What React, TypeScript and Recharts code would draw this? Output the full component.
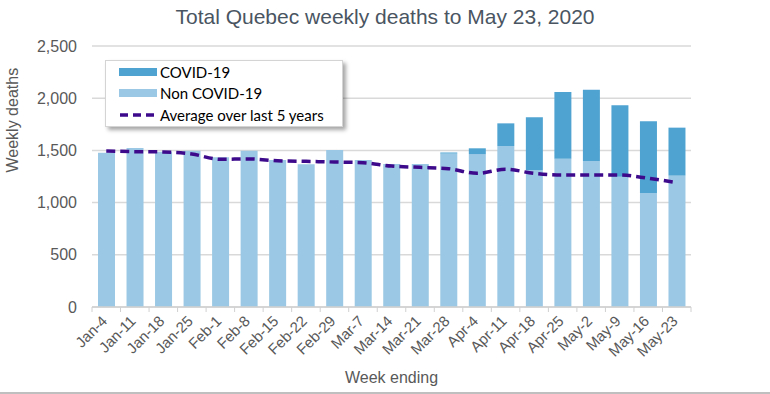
import React from "react";
import { ComposedChart, Bar, Line, XAxis, YAxis, CartesianGrid, Label } from "recharts";

const weeks = ["Jan-4","Jan-11","Jan-18","Jan-25","Feb-1","Feb-8","Feb-15","Feb-22","Feb-29","Mar-7","Mar-14","Mar-21","Mar-28","Apr-4","Apr-11","Apr-18","Apr-25","May-2","May-9","May-16","May-23"];
const nonCovid = [1478,1523,1488,1497,1434,1497,1408,1367,1504,1408,1370,1370,1470,1465,1542,1309,1421,1395,1248,1089,1258];
const covid = [0,0,0,0,0,0,0,0,0,0,0,0,10,55,217,508,638,687,684,690,460];
const avg5 = [1494,1488,1485,1465,1415,1418,1401,1395,1389,1382,1350,1338,1325,1280,1319,1280,1264,1264,1264,1233,1191];
const yTicks = [0, 500, 1000, 1500, 2000, 2500];

const data = weeks.map((w, i) => ({ week: w, non: nonCovid[i], covid: covid[i], avg: avg5[i] }));

const W = 770;
const H = 394;
const ML = 32;
const YW = 60;
const MR = 79;
const PLOT_W = W - ML - YW - MR;
const STEP = PLOT_W / weeks.length;

const C_COVID = "#4fa3d1";
const C_NON = "#9bc8e4";
const C_AVG = "#3d0a8c";
const TXT = "#595959";

const XTick = (props: any) => {
  const { x, y, payload, index } = props;
  const left = x - STEP / 2;
  return (
    <g>
      <line x1={left} x2={left} y1={y - 8} y2={y - 3} stroke="#d0d0d0" />
      {index === weeks.length - 1 && (
        <line x1={x + STEP / 2} x2={x + STEP / 2} y1={y - 8} y2={y - 3} stroke="#d0d0d0" />
      )}
      <text
        x={x + 2}
        y={y + 7}
        textAnchor="end"
        fill={TXT}
        fontSize={15}
        fontFamily="Liberation Sans, Arial, sans-serif"
        transform={`rotate(-45, ${x + 2}, ${y + 7})`}
      >
        {payload.value}
      </text>
    </g>
  );
};

const legendItems = [
  { label: "COVID-19", color: C_COVID, kind: "rect" },
  { label: "Non COVID-19", color: C_NON, kind: "rect" },
  { label: "Average over last 5 years", color: C_AVG, kind: "dash" },
];

const LegendBox = () => (
  <div
    style={{
      position: "absolute",
      left: 105,
      top: 60,
      width: 238,
      height: 67,
      boxSizing: "border-box",
      padding: "0 0 0 13px",
      background: "#fff",
      border: "1px solid #d4d4d4",
      boxShadow: "3px 3px 4px rgba(0,0,0,0.35)",
      fontFamily: "Lato, 'Open Sans', sans-serif",
      fontSize: 15,
      color: "#000",
      lineHeight: "20px",
    }}
  >
    {legendItems.map((it) => (
      <div key={it.label} style={{ display: "flex", alignItems: "center", height: 21.5 }}>
        <div style={{ width: 38, marginRight: 3, display: "flex", alignItems: "center" }}>
          {it.kind === "rect" ? (
            <div style={{ width: 38, height: 8, background: it.color }} />
          ) : (
            <svg width={38} height={6}>
              <line x1={1} x2={37} y1={3} y2={3} stroke={it.color} strokeWidth={3.5} strokeDasharray="8 5" />
            </svg>
          )}
        </div>
        <span>{it.label}</span>
      </div>
    ))}
  </div>
);

export default function App() {
  return (
    <div style={{ position: "absolute", left: 0, top: 0, width: W, height: H, background: "#fff", fontFamily: "Liberation Sans, Arial, sans-serif" }}>
      <div
        style={{
          position: "absolute",
          left: 0,
          top: 5,
          width: W,
          textAlign: "center",
          fontSize: 21,
          color: "#4a5562",
          fontFamily: "Liberation Sans, Arial, sans-serif",
        }}
      >
        Total Quebec weekly deaths to May 23, 2020
      </div>
      <ComposedChart
        width={W}
        height={H}
        data={data}
        margin={{ top: 46, right: MR, bottom: 27, left: ML }}
        barSize={17}
        style={{ position: "absolute", left: 0, top: 0 }}
      >
        <CartesianGrid vertical={false} stroke="#d9d9d9" strokeWidth={1.5} />
        <XAxis
          dataKey="week"
          interval={0}
          height={60}
          axisLine={{ stroke: "#d0d0d0", strokeWidth: 1.5 }}
          tickLine={false}
          tick={<XTick />}
        >
          <Label value="Week ending" position="insideBottom" offset={0} dy={16} fill={TXT} fontSize={16} />
        </XAxis>
        <YAxis
          width={YW}
          domain={[0, 2500]}
          ticks={yTicks}
          axisLine={false}
          tickLine={false}
          tickSize={15}
          tickMargin={0}
          tick={{ fill: TXT, fontSize: 16 }}
          tickFormatter={(v: number) => v.toLocaleString("en-US")}
        >
          <Label value="Weekly deaths" angle={-90} position="insideLeft" dx={-25} dy={-4} fill={TXT} fontSize={16} />
        </YAxis>
        <Bar dataKey="non" name="Non COVID-19" stackId="a" fill={C_NON} isAnimationActive={false} />
        <Bar dataKey="covid" name="COVID-19" stackId="a" fill={C_COVID} isAnimationActive={false} />
        <Line
          dataKey="avg"
          name="Average over last 5 years"
          type="monotone"
          stroke={C_AVG}
          strokeWidth={3.5}
          strokeDasharray="9 5"
          dot={false}
          activeDot={false}
          isAnimationActive={false}
        />
      </ComposedChart>
      <LegendBox />
      <div style={{ position: "absolute", left: 0, top: H - 2, width: W, height: 2, background: "#bfbfbf" }} />
    </div>
  );
}
